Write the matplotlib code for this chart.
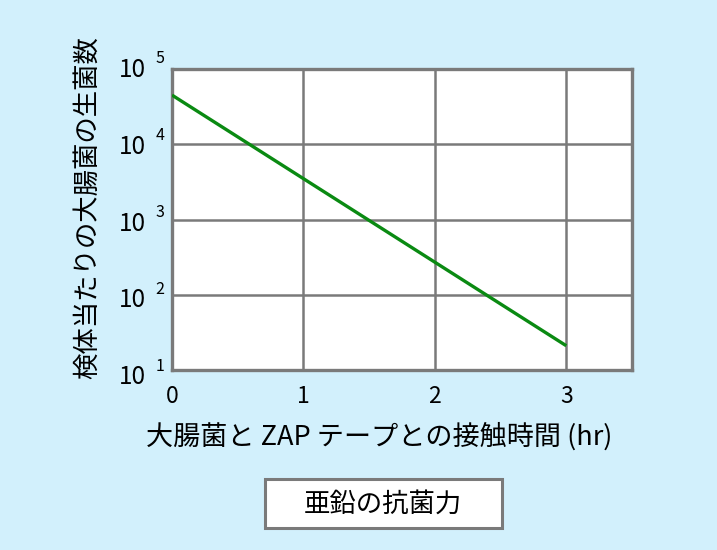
import matplotlib
matplotlib.use("Agg")
import matplotlib.pyplot as plt
from matplotlib.patches import Rectangle
from matplotlib import font_manager
import numpy as np

plt.rcParams['font.family'] = ['Noto Sans CJK JP', 'DejaVu Sans']

# Data
hours = [0, 3]
counts = [45000, 21]
x_ticks = [0, 1, 2, 3]
y_exponents = [1, 2, 3, 4, 5]
xlabel = "大腸菌と ZAP テープとの接触時間 (hr)"
ylabel = "検体当たりの大腸菌の生菌数"
title = "亜鉛の抗菌力"

bg = '#d2f0fc'
frame = '#7a7a7a'

names = {f.name for f in font_manager.fontManager.ttflist}
num_font = 'Liberation Sans Narrow' if 'Liberation Sans Narrow' in names else 'Noto Sans CJK JP'

fig = plt.figure(figsize=(7.17, 5.5), dpi=100)
fig.patch.set_facecolor(bg)
ax = fig.add_axes([172/717, 1-370/550, (632-172)/717, (370-69)/550])
ax.set_facecolor('white')
ax.set_yscale('log')
ax.set_xlim(0, 3.5)
ax.set_ylim(10, 1e5)

ax.plot(hours, counts, color='#0a8a12', lw=2.4, solid_capstyle='butt', zorder=3)

ax.set_xticks(x_ticks)
ax.set_xticklabels([str(t) for t in x_ticks], fontsize=16.5, family=num_font)
ax.set_yticks([10.0**e for e in y_exponents])
ax.set_yticklabels(['' for e in y_exponents])
ax.yaxis.set_minor_locator(matplotlib.ticker.NullLocator())
ax.tick_params(length=0, pad=11)
ax.grid(True, color=frame, lw=1.8)
ax.set_axisbelow(True)
for s in ax.spines.values():
    s.set_color(frame)
    s.set_linewidth(2.4)

for i, e in enumerate(y_exponents):
    dy = -2.0 - 1.2 * (4 - i) + 1.5
    ax.annotate('10', xy=(0, 10.0**e), xycoords=('axes fraction', 'data'),
                xytext=(-19, dy), textcoords='offset points',
                ha='right', va='center', fontsize=17.5, family=num_font)
    ax.annotate(str(e), xy=(0, 10.0**e), xycoords=('axes fraction', 'data'),
                xytext=(-12, dy + 8), textcoords='offset points',
                ha='left', va='center', fontsize=11.5, family=num_font)

fig.text(379/717, 1-437/550, xlabel, ha='center', va='center', fontsize=19.5)
fig.text(87/717, 1-208/550, ylabel, ha='center', va='center', fontsize=19, rotation=90)

fig.patches.append(Rectangle((265/717, 1-528/550), (502-265)/717, (528-479)/550,
                             transform=fig.transFigure, facecolor='white',
                             edgecolor=frame, lw=2.2))
fig.text(383/717, 1-504/550, title, ha='center', va='center', fontsize=19)

fig.savefig('out.png', dpi=100, facecolor=bg)
